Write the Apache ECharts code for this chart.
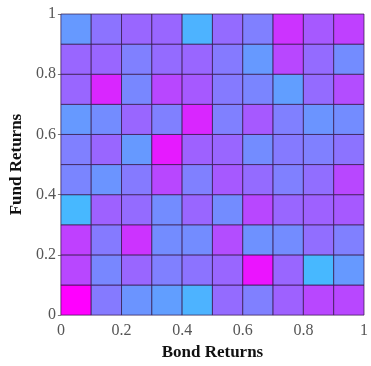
<!DOCTYPE html>
<html>
<head>
<meta charset="utf-8">
<script src="https://cdn.jsdelivr.net/npm/echarts@6/dist/echarts.min.js"></script>
<style>html,body{margin:0;padding:0;background:#fff}#c{width:371px;height:366px}</style>
</head>
<body>
<div id="c"></div>
<script>
// Bin left/bottom edges for Bond Returns (x) and Fund Returns (y)
var bondBins = [0, 0.1, 0.2, 0.3, 0.4, 0.5, 0.6, 0.7, 0.8, 0.9];
var fundBins = [0, 0.1, 0.2, 0.3, 0.4, 0.5, 0.6, 0.7, 0.8, 0.9];
var binWidth = 0.1;
// Cell values, rows from bottom (Fund 0-0.1) to top, columns left to right
var row0 = [1.00, 0.52, 0.42, 0.38, 0.30, 0.58, 0.50, 0.62, 0.72, 0.72];
var row1 = [0.72, 0.47, 0.60, 0.50, 0.55, 0.60, 0.92, 0.60, 0.28, 0.40];
var row2 = [0.75, 0.52, 0.80, 0.45, 0.45, 0.70, 0.43, 0.45, 0.57, 0.50];
var row3 = [0.28, 0.62, 0.58, 0.45, 0.60, 0.45, 0.72, 0.60, 0.62, 0.65];
var row4 = [0.48, 0.42, 0.52, 0.72, 0.50, 0.65, 0.58, 0.50, 0.57, 0.72];
var row5 = [0.50, 0.60, 0.40, 0.90, 0.62, 0.60, 0.45, 0.52, 0.50, 0.55];
var row6 = [0.40, 0.45, 0.60, 0.50, 0.85, 0.50, 0.65, 0.50, 0.42, 0.45];
var row7 = [0.60, 0.85, 0.47, 0.72, 0.65, 0.52, 0.48, 0.38, 0.58, 0.70];
var row8 = [0.60, 0.60, 0.50, 0.58, 0.60, 0.52, 0.40, 0.72, 0.58, 0.45];
var row9 = [0.40, 0.55, 0.60, 0.60, 0.30, 0.58, 0.50, 0.80, 0.65, 0.75];
var rows = [row0, row1, row2, row3, row4, row5, row6, row7, row8, row9];
var tickValues = ['0', '0.2', '0.4', '0.6', '0.8', '1'];

var data = [];
rows.forEach(function (r, j) {
  r.forEach(function (v, i) { data.push([bondBins[i], fundBins[j], v]); });
});

var chart = echarts.init(document.getElementById('c'), null, {renderer: 'canvas'});
var serif = '"Liberation Serif", "DejaVu Serif", serif';
function axis(name, gap, rot, margin, ticks) {
  return {
    type: 'value', min: 0, max: 1, interval: 0.2,
    name: name, nameLocation: 'middle', nameGap: gap, nameRotate: rot,
    nameTextStyle: {fontFamily: serif, fontWeight: 'bold', fontSize: 17, color: '#111'},
    axisLine: {show: false},
    axisTick: {show: ticks, length: 3, lineStyle: {color: '#777'}},
    splitLine: {show: false},
    axisLabel: {fontFamily: serif, fontSize: 16, color: '#555', margin: margin,
      formatter: function (v) { return tickValues[Math.round(v / 0.2)]; }}
  };
}
chart.setOption({
  animation: false,
  grid: {left: 58, right: 4, top: 14, bottom: 43},
  xAxis: axis('Bond Returns', 22, 0, 8, false),
  yAxis: axis('Fund Returns', 30, 90, 5, true),
  visualMap: {show: false, type: 'continuous', min: 0, max: 1, dimension: 2,
    inRange: {color: ['#00ffff', '#ff00ff']}},
  series: [{
    type: 'custom',
    data: data,
    encode: {x: 0, y: 1},
    renderItem: function (params, api) {
      var p0 = api.coord([api.value(0), api.value(1) + binWidth]);
      var p1 = api.coord([api.value(0) + binWidth, api.value(1)]);
      return {
        type: 'rect',
        shape: {x: p0[0], y: p0[1], width: p1[0] - p0[0], height: p1[1] - p0[1]},
        style: {fill: api.visual('color'), stroke: 'rgba(50,20,70,0.7)', lineWidth: 1}
      };
    }
  }]
});
</script>
</body>
</html>
